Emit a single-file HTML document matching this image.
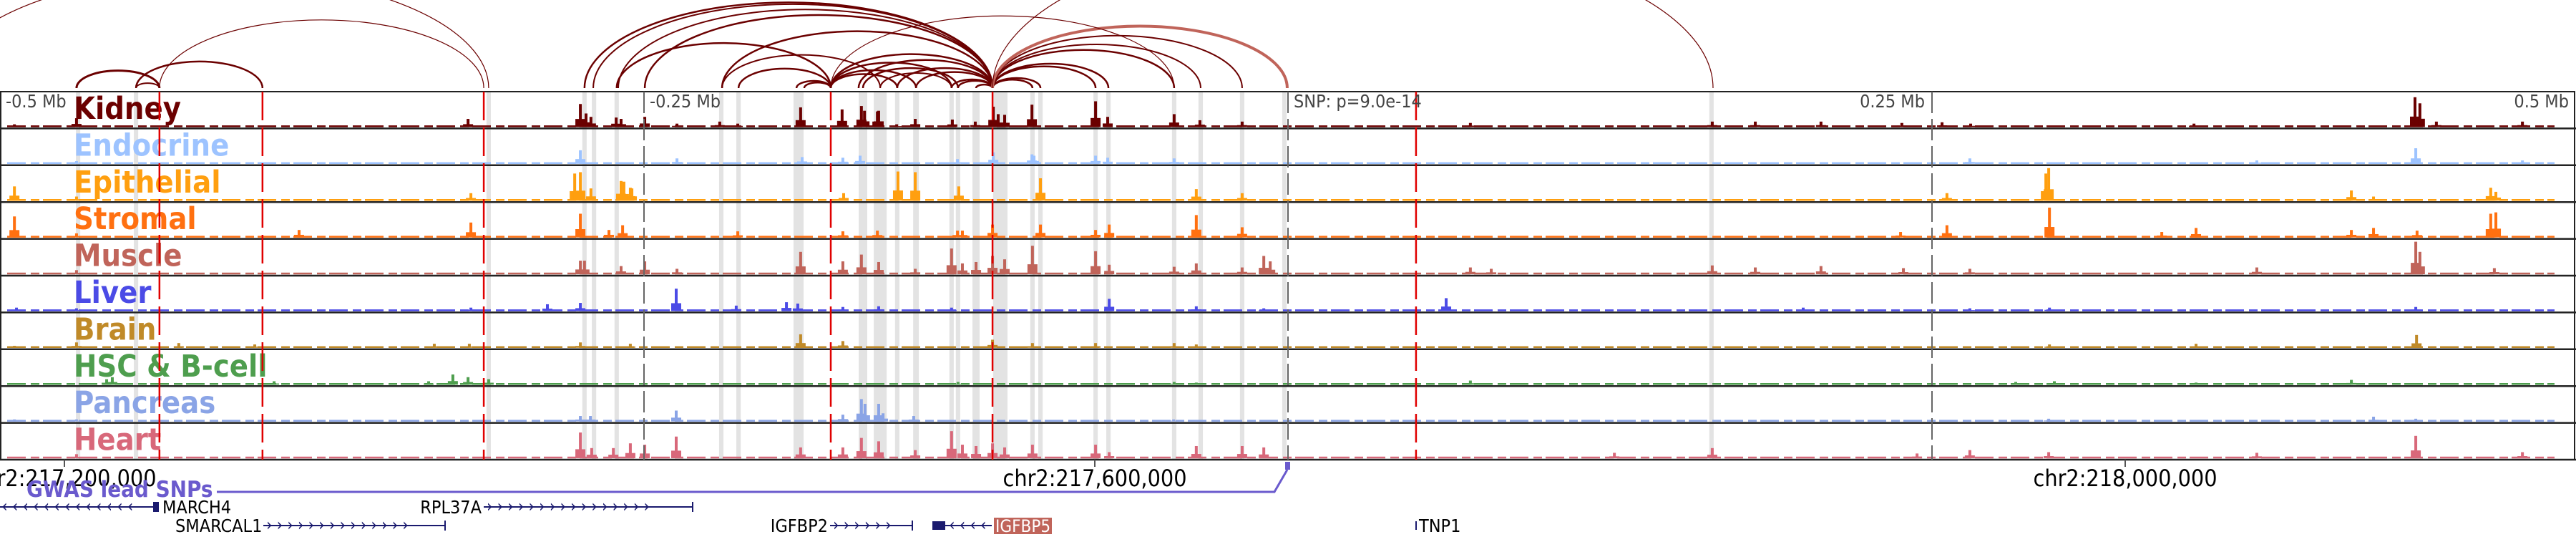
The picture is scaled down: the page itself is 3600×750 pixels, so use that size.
<!DOCTYPE html>
<html><head><meta charset="utf-8">
<style>
html,body{margin:0;padding:0;background:#fff;}
svg{display:block;}
text{font-family:"DejaVu Sans Condensed","DejaVu Sans","Liberation Sans",sans-serif;}
</style></head>
<body>
<svg id="chart" width="3600" height="750" viewBox="0 0 3600 750" xmlns="http://www.w3.org/2000/svg"></svg>
<script>
// window: kb offset from chr2:217,175,000 ; 3.6 px per kb
const trackNames = ["Kidney","Endocrine","Epithelial","Stromal","Muscle","Liver","Brain","HSC & B-cell","Pancreas","Heart"];
const trackColors = ["#6b0000","#9dc3ff","#ff9f0f","#ff7010","#c0645a","#4b4be6","#c08a28","#4e9e4e","#8aa4e6","#d8687a"];
const kidneyPeaks = [[5.6,4],[29.7,13],[181.7,12],[225.3,34],[227.5,20],[229.4,15],[239.2,14],[241.1,12],[250.3,15],[262.8,5],[279.4,8],[286.4,5],[310.8,29],[326.9,26],[334.4,31],[335.6,24],[340.6,23],[341.1,24],[348.1,4],[355.3,12],[369.7,11],[378.6,8],[385.6,30],[387.5,19],[390,18],[400.6,33],[425.3,38],[430,15],[455.8,19],[465.8,10],[482.2,8],[570.8,6],[664.7,8],[681.4,8],[706.9,8],[738.3,6],[753.9,7],[765,5],[851.7,5],[937.5,44],[939.4,35],[945.8,8],[979.2,8]];
const endocrinePeaks = [[29.7,4],[225.3,20],[262.8,8],[311.4,10],[327.2,9],[333.9,12],[371.7,7],[385.6,17],[400.6,14],[401.4,12],[425.3,12],[430,9],[455.8,8],[764.7,8],[876.1,5],[937.8,23],[979.2,5]];
const epithelialPeaks = [[5.6,21],[29.7,6],[182.8,11],[223.1,40],[225.3,42],[229.4,18],[241.1,29],[244.7,19],[242.2,28],[245.3,18],[327.5,11],[348.6,43],[355.3,42],[372.2,21],[403.9,33],[464.4,17],[482.2,11],[755.8,11],[794.2,40],[795.3,48],[912.8,15],[921.4,6],[966.9,19],[968.9,13]];
const stromalPeaks = [[5.6,31],[29.7,6],[116.1,11],[182.8,22],[225.3,35],[236.4,11],[241.7,18],[286.4,9],[327.2,9],[340.6,10],[371.7,10],[373.6,10],[385.3,19],[403.9,19],[425.3,11],[430.6,19],[464.4,33],[482.2,15],[737.8,8],[755.8,18],[795.6,44],[839.2,8],[852.5,14],[912.8,11],[921.4,14],[938.3,10],[966.9,35],[968.9,37]];
const musclePeaks = [[29.7,6],[225.3,20],[226.9,20],[241.1,12],[250.3,19],[262.8,8],[310.8,33],[327.2,19],[334.4,29],[341.1,18],[355.3,8],[369.4,38],[373.6,16],[378.9,18],[385.3,27],[390,22],[400.8,42],[425.3,34],[430.6,14],[455.8,11],[464.4,16],[482.2,10],[490.6,27],[493.1,19],[570.8,10],[578.9,8],[664.7,13],[681.4,10],[706.9,12],[738.9,9],[764.7,8],[876.1,10],[937.8,48],[939.4,33],[968.3,9]];
const liverPeaks = [[6.4,5],[29.7,4],[182.8,5],[212.5,10],[225.3,12],[262.5,33],[285.8,8],[305.3,13],[309.7,11],[327.2,6],[341.1,7],[369.4,5],[430.6,18],[464.4,7],[490.6,4],[561.4,19],[700,5],[764.7,4],[795.6,5],[937.8,6]];
const brainPeaks = [[5.6,3],[29.7,8],[69.4,7],[98.9,5],[168.6,6],[182.2,6],[225.3,8],[244.7,6],[310.8,20],[327.2,10],[385.3,12],[400.8,7],[425.3,7],[455.8,7],[464.4,5],[795.6,5],[852.5,6],[938.1,19]];
const hscPeaks = [[41.4,8],[43.6,11],[106.4,5],[166.4,5],[175.8,15],[181.7,11],[189.7,8],[371.9,4],[455.8,4],[464.4,3],[570.8,6],[782.5,4],[797.5,5],[852.5,3],[912.8,7]];
const pancreasPeaks = [[5.6,3],[29.7,3],[225.3,8],[229.2,8],[262.5,16],[327.2,10],[334.4,33],[335.8,26],[341.1,26],[342.8,12],[354.7,8],[455.6,3],[795.3,4],[921.4,7],[937.8,4]];
const heartPeaks = [[29.7,6],[225.3,38],[229.7,15],[238.1,15],[244.7,22],[250.3,20],[262.5,32],[310.8,16],[327.2,16],[334.4,30],[341.1,25],[355.3,12],[369.4,40],[373.6,20],[378.9,18],[385.3,22],[390,16],[400.8,20],[425.3,20],[430.6,9],[464.4,18],[482.2,18],[490.6,16],[626.7,8],[664.7,15],[744.2,7],[764.7,12],[795.3,9],[876.1,8],[937.8,33],[979.2,9]];
const trackPeaks = [kidneyPeaks,endocrinePeaks,epithelialPeaks,stromalPeaks,musclePeaks,liverPeaks,brainPeaks,hscPeaks,pancreasPeaks,heartPeaks];
const highlightBands = [[30.3,1.7],[52.8,1.7],[189.7,1.7],[226.9,1.7],[230.6,1.7],[239.4,1.7],[280,1.7],[286.7,1.7],[310,3.9],[335,3.3],[341.7,5],[348.3,1.7],[355.6,2.2],[369.4,1.7],[371.9,1.7],[378.9,2.8],[388.3,5.6],[400.8,1.7],[403.9,1.7],[425.3,1.7],[430.3,1.7],[455.8,1.7],[466.1,1.7],[482.2,1.7],[498.6,1.7],[664.4,1.7]];
const redLines = [61.9,101.9,187.8,322.5,385.3,549.7];
const grayLines = [250,500,750];
const offsetLabels = ["-0.5 Mb","-0.25 Mb","SNP: p=9.0e-14","0.25 Mb","0.5 Mb"];
const offsetPos = [0,250,500,750,1000];
const axisTicks = [25,425,825];
const axisLabels = ["chr2:217,200,000","chr2:217,600,000","chr2:218,000,000"];
const loopStarts = [29.7,52.8,52.8,61.9,-22.2,226.9,230.3,239.4,240,250.3,280.3,286.7,280.3,309.2,312.2,322.5,322.5,322.5,322.5,333.3,335,341.7,348.3,355.6,369.4,371.9,378.9,385.3,385.3,385.3,385.3,385.3,385.3,385.3,385.3,385.3,322.5];
const loopEnds   = [61.9,61.9,101.9,187.8,189.7,385.3,385.3,322.5,385.3,385.3,385.3,322.5,341.7,322.5,322.5,348.3,355.6,369.4,385.3,385.3,371.9,369.4,385.3,385.3,385.3,385.3,385.3,400.8,403.9,425.3,430.3,455.8,466.1,482.2,499.7,665,455.8];
const loopWidths = [3,2,2.5,1.2,1.2,2.5,2,2.5,2,2.5,2.5,2.5,2,2.5,2.5,2.5,2.5,2.5,2.5,2.5,2.5,2,2.5,2.5,2.5,2.5,2.5,2.5,2.5,2.5,2.5,2.5,2,2,4,1.2,1.2];

const svg = document.getElementById('chart');
const NS = 'http://www.w3.org/2000/svg';
const xS = kb => kb * 3.6;
const TOP = 128, TH = 51.4, NT = 10, ARC_BASE = 123;
const trackTop = i => TOP + i * TH;
const yS = (i, v) => trackTop(i) + TH - 2 - v * (TH - 6) / 48;
function mk(tag, attrs, parent) {
  const e = document.createElementNS(NS, tag);
  for (const k in attrs) e.setAttribute(k, attrs[k]);
  (parent || svg).appendChild(e);
  return e;
}

// arcs
const gArcs = mk('g', {});


loopStarts.forEach((s, i) => {
  const x1 = xS(s), x2 = xS(loopEnds[i]);
  const rx = (x2 - x1) / 2, ry = (x2 - x1) * 0.21;
  const pink = loopEnds[i] === 499.7;
  const p = mk('path', {d: `M${x1},${ARC_BASE} A${rx},${ry} 0 0 1 ${x2},${ARC_BASE}`, fill: 'none', stroke: pink ? '#c0645a' : '#6b0000', 'stroke-width': loopWidths[i]}, gArcs);
  
  
});

// highlight bands
highlightBands.forEach(b => {
  const r = mk('rect', {x: xS(b[0]) - xS(b[1]) / 2, y: TOP, width: xS(b[1]), height: TH * NT, fill: '#e3e3e3'});
  
  
});

// tracks
trackNames.forEach((name, i) => {
  const g = mk('g', {});
  
  
  const c = trackColors[i];
  const base = mk('line', {x1: 10, x2: 3570, y1: trackTop(i) + TH - 3, y2: trackTop(i) + TH - 3, stroke: c, 'stroke-width': 2.5, 'stroke-dasharray': '26 7 12 5'}, g);
  
  
  trackPeaks[i].forEach(pk => {
    const x = xS(pk[0]);
    const yb = trackTop(i) + TH - 2;
    const yt = yS(i, pk[1]);
    const ys = yS(i, pk[1] * 0.35);
    const sh = mk('rect', {x: x - 7, y: ys, width: 14, height: yb - ys, fill: c}, g);
    
    
    const b = mk('rect', {x: x - 2, y: yt, width: 4, height: yb - yt, fill: c}, g);
    
    
  });
  const t = mk('text', {x: 103, y: trackTop(i) + 38, fill: c, 'font-size': 43, 'font-weight': 'bold'}, g);
  t.textContent = name;
  
  
  const bl = mk('line', {x1: 0, x2: 3600, y1: trackTop(i) + TH, y2: trackTop(i) + TH, stroke: '#222', 'stroke-width': 2.5}, g);
  
  
});
const frame = mk('rect', {x: 1, y: TOP, width: 3597, height: TH * NT, fill: 'none', stroke: '#222', 'stroke-width': 2});



// vertical lines
grayLines.forEach(k => {
  const l = mk('line', {x1: xS(k), x2: xS(k), y1: TOP, y2: TOP + TH * NT, stroke: '#666', 'stroke-width': 2, 'stroke-dasharray': '30 8'});
  
  
});
redLines.forEach(k => {
  const l = mk('line', {x1: xS(k), x2: xS(k), y1: TOP, y2: TOP + TH * NT, stroke: '#e00000', 'stroke-width': 2.5, 'stroke-dasharray': '40 10'});
  
  
});
offsetLabels.forEach((lab, i) => {
  const k = offsetPos[i];
  let x = xS(k) + 8, anchor = 'start';
  if (k === 750 || k === 1000) { x = xS(k) - 10; anchor = 'end'; }
  const t = mk('text', {x: x, y: TOP + 22, 'font-size': 25, fill: '#444', 'text-anchor': anchor});
  t.textContent = lab;
  
  
});

// axis
axisTicks.forEach((k, i) => {
  const tk = mk('line', {x1: xS(k), x2: xS(k), y1: TOP + TH * NT, y2: TOP + TH * NT + 10, stroke: '#555', 'stroke-width': 2});
  
  
  const t = mk('text', {x: xS(k), y: 679, 'font-size': 32, fill: '#000', 'text-anchor': 'middle'});
  t.textContent = axisLabels[i];
  
  
});
</script>
<svg width="3600" height="750" viewBox="0 0 3600 750" style="position:absolute;left:0;top:0;pointer-events:none" xmlns="http://www.w3.org/2000/svg">
  <text x="37" y="694" font-size="31" font-weight="bold" fill="#6a5acd">GWAS lead SNPs</text>
  <polyline points="303,687 1781,687 1799,656" fill="none" stroke="#6a5acd" stroke-width="3"/>
  <rect x="1796" y="645" width="7" height="11" fill="#6a5acd"/>
  <g>
    <line x1="0" y1="708" x2="216" y2="708" stroke="#1a1a6e" stroke-width="2"/>
    <text x="2" y="715" font-size="24" fill="#1a1a6e" letter-spacing="6">‹‹‹‹‹‹‹‹‹‹‹‹‹</text>
    <rect x="214" y="701" width="8" height="14" fill="#1a1a6e"/>
    <text x="227" y="717" font-size="25" fill="#000">MARCH4</text>
  </g>
  <g>
    <text x="673" y="717" font-size="25" fill="#000" text-anchor="end">RPL37A</text>
    <line x1="676" y1="708" x2="968" y2="708" stroke="#1a1a6e" stroke-width="2"/>
    <line x1="968" y1="701" x2="968" y2="715" stroke="#1a1a6e" stroke-width="2"/>
    <text x="680" y="715" font-size="24" fill="#1a1a6e" letter-spacing="6">››››››››››››››››</text>
  </g>
  <g>
    <text x="245" y="743" font-size="25" fill="#000">SMARCAL1</text>
    <line x1="368" y1="734" x2="622" y2="734" stroke="#1a1a6e" stroke-width="2"/>
    <line x1="622" y1="727" x2="622" y2="741" stroke="#1a1a6e" stroke-width="2"/>
    <text x="372" y="741" font-size="24" fill="#1a1a6e" letter-spacing="6">››››››››››››››</text>
  </g>
  <g>
    <text x="1157" y="743" font-size="25" fill="#000" text-anchor="end">IGFBP2</text>
    <line x1="1160" y1="734" x2="1275" y2="734" stroke="#1a1a6e" stroke-width="2"/>
    <line x1="1275" y1="727" x2="1275" y2="741" stroke="#1a1a6e" stroke-width="2"/>
    <text x="1164" y="741" font-size="24" fill="#1a1a6e" letter-spacing="6">››››››</text>
  </g>
  <g>
    <line x1="1303" y1="734" x2="1386" y2="734" stroke="#1a1a6e" stroke-width="2"/>
    <rect x="1303" y="728" width="18" height="12" fill="#1a1a6e"/>
    <text x="1326" y="741" font-size="24" fill="#1a1a6e" letter-spacing="6">‹‹‹‹</text>
    <rect x="1389" y="723" width="81" height="23" fill="#c0645a"/>
    <text x="1391" y="743" font-size="24" fill="#fff">IGFBP5</text>
  </g>
  <g>
    <line x1="1979" y1="728" x2="1979" y2="740" stroke="#1a1a6e" stroke-width="2"/>
    <text x="1983" y="743" font-size="25" fill="#000">TNP1</text>
  </g>
</svg>
</body></html>
